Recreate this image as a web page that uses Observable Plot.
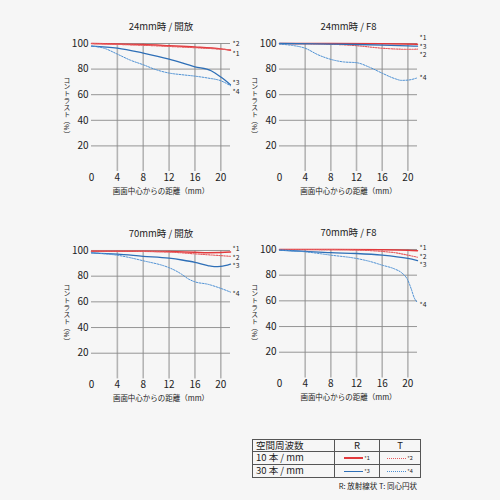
<!DOCTYPE html>
<html><head><meta charset="utf-8">
<script src="https://cdn.jsdelivr.net/npm/d3@7"></script>
<script src="https://cdn.jsdelivr.net/npm/@observablehq/plot@0.6"></script>
<style>
html,body{margin:0;padding:0;background:#f6f6f6;}
#root{position:relative;width:500px;height:500px;background:#f6f6f6;font-family:"Noto Sans CJK JP","Noto Sans",sans-serif;color:#222;overflow:hidden;}
.panel{position:absolute;}
.ylab{position:absolute;writing-mode:vertical-rl;font-size:6.8px;transform:translate(-50%,-50%);white-space:nowrap;color:#222;}
table.lg{position:absolute;left:252px;top:439px;border-collapse:collapse;font-size:9.5px;color:#222;}
table.lg td{border:1px solid #555;padding:0 3px;height:11px;line-height:11px;}
.sw{display:inline-block;width:19px;vertical-align:middle;margin-right:1px;}
.st{font-size:5.5px;vertical-align:middle;}
#cap{position:absolute;right:83px;top:480px;font-size:7.5px;color:#222;white-space:nowrap;}
</style></head>
<body><div id="root"></div>
<script>
// ---- data ----
const xTicks = [0, 4, 8, 12, 16, 20];
const yTicks = [20, 40, 60, 80, 100];
const titles = ["24mm時 / 開放", "24mm時 / F8", "70mm時 / 開放", "70mm時 / F8"];
const xLabel = "画面中心からの距離（mm）";
const yLabel = "コントラスト（%）";
const seriesNames = ["*1", "*2", "*3", "*4"];

// 24mm 開放
const p1x1 = [0, 4, 8, 12, 16, 20, 21.5];
const p1s1 = [100, 99.7, 99.2, 98.3, 97.3, 95.8, 94.8];
const p1x2 = [0, 4, 8, 12, 16, 20, 21.5];
const p1s2 = [100, 99.3, 98.6, 97.7, 96.7, 95.6, 95.1];
const p1x3 = [0, 4, 8, 12, 16, 18.5, 20, 21.5];
const p1s3 = [98, 96.4, 92.5, 87.8, 81.8, 78.7, 73.8, 67.8];
const p1x4 = [0, 2, 4, 6, 8, 10, 12, 14, 16, 18, 20, 21.5];
const p1s4 = [98, 96.2, 91.7, 87, 83.4, 79.5, 76.9, 75.6, 74.5, 73, 70.9, 67];
// 24mm F8
const p2x1 = [0, 8, 16, 21.5];
const p2s1 = [100, 100, 99.8, 99.5];
const p2x2 = [0, 4, 8, 12, 16, 20, 21.5];
const p2s2 = [100, 99.8, 99.4, 98.3, 96.3, 95.5, 95.6];
const p2x3 = [0, 8, 12, 16, 20, 21.5];
const p2s3 = [100, 99.5, 99.2, 98.8, 98.2, 97.9];
const p2x4 = [0, 2, 4, 6, 8, 10, 12, 14, 16, 18, 19, 20, 21.5];
const p2s4 = [99.5, 98.5, 96.3, 91.2, 87.6, 85.6, 85, 81.5, 76.8, 72.5, 71.2, 71.4, 73.2];
// 70mm 開放
const p3x1 = [0, 8, 12, 16, 18, 20, 21.5];
const p3s1 = [99.5, 99.5, 99.2, 98.6, 98.3, 98.4, 98.8];
const p3x2 = [0, 8, 12, 16, 20, 21.5];
const p3s2 = [99.5, 99.3, 98.8, 97.4, 96, 95.5];
const p3x3 = [0, 4, 8, 12, 14, 16, 18, 19, 20, 21.5];
const p3s3 = [98.2, 97.1, 95.5, 94, 92.6, 90.8, 88.2, 87.4, 87.6, 89.4];
const p3x4 = [0, 4, 8, 12, 13, 14, 15, 16, 18, 20, 21.5];
const p3s4 = [98.2, 96.3, 92, 86.6, 84.3, 81.3, 77.8, 75.6, 73.7, 70.5, 67.6];
// 70mm F8
const p4x1 = [0, 8, 16, 20, 21.5];
const p4s1 = [100, 100, 99.8, 99.4, 99];
const p4x2 = [0, 8, 12, 16, 18, 20, 21.5];
const p4s2 = [100, 99.9, 99.6, 98.5, 97.5, 95.6, 94];
const p4x3 = [0, 4, 8, 12, 16, 20, 21.5];
const p4s3 = [99.5, 98.5, 97.5, 96.9, 95.6, 93, 91.4];
const p4x4 = [0, 4, 8, 12, 14, 16, 18, 19, 20, 20.5, 21, 21.5];
const p4s4 = [99.5, 98.2, 95.6, 93, 90.8, 87.8, 84.7, 82, 76, 69.6, 62.3, 58.7];

// label positions (y values at right edge) per panel, order *1..*4
const lab1 = [92, 99.5, 69.2, 62];
const lab2 = [104.3, 91, 97.6, 73.2];
const lab3 = [101.2, 94.4, 87.7, 66.3];
const lab4 = [101.2, 94.4, 87.7, 57.1];

const legendHead = ["空間周波数", "R", "T"];
const legendRows = ["10 本 / mm", "30 本 / mm"];
const caption = "R: 放射線状  T: 同心円状";

// ---- styles ----
const styles = [
  {stroke: "#e2393c", strokeWidth: 1.5, dash: null},
  {stroke: "#e55b5e", strokeWidth: 1.1, dash: "1.4,1.2"},
  {stroke: "#2e6fb7", strokeWidth: 1.3, dash: null},
  {stroke: "#4b8fd3", strokeWidth: 1.0, dash: "1.6,1.3"}
];

const panels = [
  {title: titles[0], xs: [p1x1, p1x2, p1x3, p1x4], ys: [p1s1, p1s2, p1s3, p1s4], lab: lab1, left: 91, top: 0, mt: 43, ph: 128, pw: 139},
  {title: titles[1], xs: [p2x1, p2x2, p2x3, p2x4], ys: [p2s1, p2s2, p2s3, p2s4], lab: lab2, left: 278.7, top: 0, mt: 43, ph: 128, pw: 138},
  {title: titles[2], xs: [p3x1, p3x2, p3x3, p3x4], ys: [p3s1, p3s2, p3s3, p3s4], lab: lab3, left: 91, top: 207, mt: 43, ph: 128.4, pw: 139},
  {title: titles[3], xs: [p4x1, p4x2, p4x3, p4x4], ys: [p4s1, p4s2, p4s3, p4s4], lab: lab4, left: 278.7, top: 206.3, mt: 43, ph: 128.4, pw: 138}
];

const root = document.getElementById("root");
const ML = 30, MR = 14, MB = 34;

panels.forEach(p => {
  const lineMarks = p.xs.map((xs, i) => {
    const data = xs.map((x, j) => ({x, y: p.ys[i][j]}));
    return Plot.line(data, {x: "x", y: "y", curve: "monotone-x",
      stroke: styles[i].stroke, strokeWidth: styles[i].strokeWidth,
      strokeDasharray: styles[i].dash});
  });
  const labData = seriesNames.map((s, i) => ({s, y: p.lab[i]}));
  const chart = Plot.plot({
    width: ML + p.pw + MR,
    height: p.mt + p.ph + MB,
    marginLeft: ML, marginRight: MR, marginTop: p.mt, marginBottom: MB,
    style: {background: "transparent", fontFamily: "'Noto Sans CJK JP','Noto Sans',sans-serif", overflow: "visible"},
    x: {domain: [0, 21.5]},
    y: {domain: [0, 100]},
    marks: [
      Plot.ruleX(xTicks.filter(d => d > 0), {y1: 0, y2: 100, stroke: "#b4b4b4", strokeWidth: 1.6, strokeOpacity: 1}),
      Plot.ruleY(yTicks, {x1: 0, x2: 21.5, stroke: "#8a8a8a", strokeWidth: 0.9, strokeOpacity: 1}),
      Plot.axisX({ticks: xTicks, tickSize: 0, tickPadding: 2, label: null, fontSize: 10, fill: "#222"}),
      Plot.axisY({ticks: yTicks, tickSize: 0, tickPadding: 3, label: null, fontSize: 10, fill: "#222"}),
      ...lineMarks,
      Plot.text(labData, {x: 21.5, y: "y", text: "s", textAnchor: "start", dx: 2, fontSize: 6.8, fill: "#222"}),
      Plot.text([p.title], {frameAnchor: "top", dy: -20, fontSize: 9.5, fill: "#222"}),
      Plot.text([xLabel], {frameAnchor: "bottom", dy: 22, fontSize: 7.5, fill: "#222"})
    ]
  });
  chart.classList.add("panel");
  chart.style.left = (p.left - ML) + "px";
  chart.style.top = p.top + "px";
  root.appendChild(chart);
  const yl = document.createElement("div");
  yl.className = "ylab";
  yl.textContent = yLabel;
  yl.style.left = (p.left - 24) + "px";
  yl.style.top = (p.top + p.mt + p.ph * 0.5) + "px";
  root.appendChild(yl);
});

// legend table
const tbl = document.createElement("table");
tbl.className = "lg";
const widths = [75, 38, 34];
const hr = tbl.insertRow();
legendHead.forEach((h, i) => {
  const c = hr.insertCell(); c.textContent = h; c.style.width = widths[i] + "px";
  if (i > 0) c.style.textAlign = "center";
});
legendRows.forEach((r, ri) => {
  const row = tbl.insertRow();
  const c0 = row.insertCell(); c0.textContent = r;
  [0, 1].forEach(k => {
    const idx = ri * 2 + k;
    const c = row.insertCell(); c.style.textAlign = "center";
    const sw = document.createElement("span"); sw.className = "sw";
    const st = styles[idx];
    sw.style.borderTop = (st.dash ? "1px dotted " : (idx === 0 ? "2px solid " : "1px solid ")) + st.stroke;
    const t = document.createElement("span"); t.className = "st"; t.textContent = seriesNames[idx];
    c.appendChild(sw); c.appendChild(t);
  });
});
root.appendChild(tbl);
const cap = document.createElement("div"); cap.id = "cap"; cap.textContent = caption;
root.appendChild(cap);
</script></body></html>
